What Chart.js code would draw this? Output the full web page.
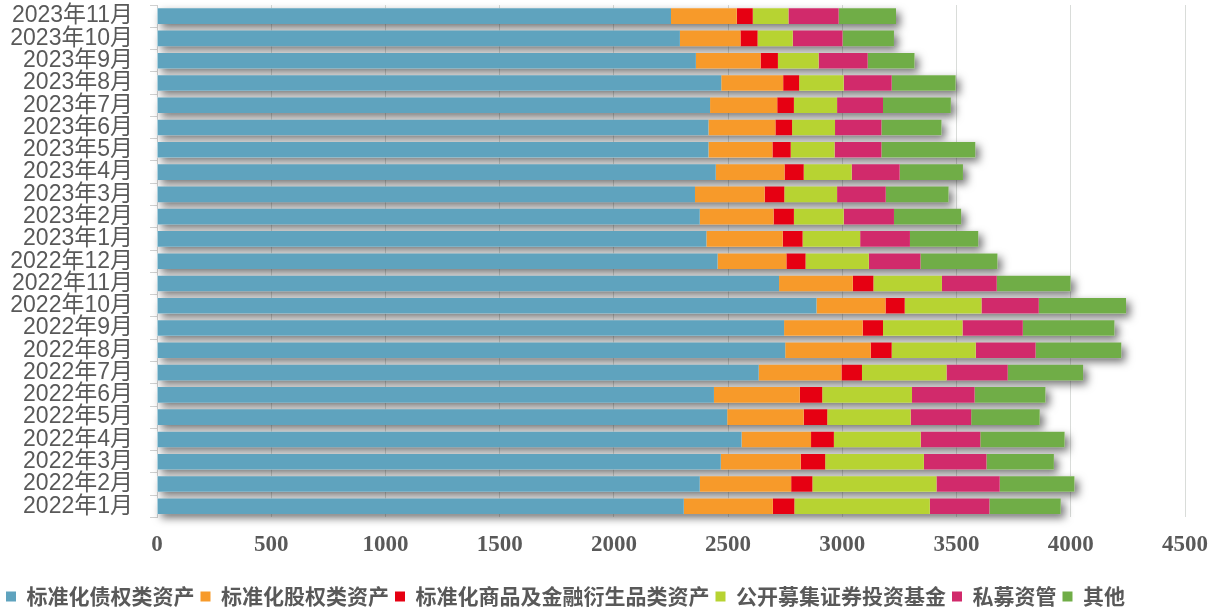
<!DOCTYPE html>
<html>
<head>
<meta charset="utf-8">
<script src="https://cdn.jsdelivr.net/npm/chart.js@4.4.0/dist/chart.umd.min.js"></script>
<style>
  body { margin: 0; background: #fff; }
  #wrap { width: 1222px; height: 610px; }
</style>
</head>
<body>
<div id="wrap"><canvas id="myChart"></canvas></div>
<script>
// months, oldest first (axis is reversed so the latest month sits on top)
var months = ['2022年1月', '2022年2月', '2022年3月', '2022年4月', '2022年5月', '2022年6月',
  '2022年7月', '2022年8月', '2022年9月', '2022年10月', '2022年11月', '2022年12月',
  '2023年1月', '2023年2月', '2023年3月', '2023年4月', '2023年5月', '2023年6月',
  '2023年7月', '2023年8月', '2023年9月', '2023年10月', '2023年11月'];

var bondAssets = [2306, 2376, 2468, 2559, 2496, 2438, 2634, 2750, 2745, 2887, 2723, 2454,
  2405, 2376, 2355, 2446, 2414, 2414, 2421, 2470, 2359, 2289, 2250];
var equityAssets = [390, 400, 350, 304, 335, 376, 362, 374, 344, 302, 323, 301,
  334, 323, 305, 301, 280, 293, 294, 271, 283, 265, 288];
var commodityAssets = [94, 93, 107, 100, 103, 98, 90, 92, 89, 84, 90, 84,
  87, 89, 86, 84, 80, 73, 73, 70, 76, 75, 70];
var publicFunds = [593, 543, 432, 380, 365, 393, 370, 368, 348, 336, 300, 277,
  252, 218, 231, 210, 192, 188, 189, 195, 178, 154, 156];
var privateMgmt = [261, 277, 274, 261, 265, 274, 268, 262, 264, 251, 240, 226,
  218, 220, 213, 210, 205, 203, 201, 210, 215, 218, 220];
var others = [312, 327, 295, 369, 300, 310, 330, 375, 401, 382, 323, 337,
  299, 294, 275, 277, 411, 263, 297, 280, 205, 225, 251];

var xTicks = [0, 500, 1000, 1500, 2000, 2500, 3000, 3500, 4000, 4500];

// soft drop shadow behind each whole stacked bar
var barShadow = {
  id: 'barShadow',
  beforeDatasetsDraw: function(chart) {
    var ctx = chart.ctx;
    var last = chart.getDatasetMeta(chart.data.datasets.length - 1);
    var base = chart.scales.x.getPixelForValue(0);
    ctx.save();
    ctx.shadowColor = 'rgba(0,0,0,0.55)';
    ctx.shadowBlur = 8;
    ctx.shadowOffsetX = 4;
    ctx.shadowOffsetY = 4;
    ctx.fillStyle = '#ffffff';
    last.data.forEach(function(bar) {
      ctx.fillRect(base, bar.y - bar.height / 2, bar.x - base, bar.height);
    });
    ctx.restore();
  }
};

function series(label, data, color) {
  return {
    label: label,
    data: data,
    backgroundColor: color,
    borderWidth: 0,
    categoryPercentage: 0.7,
    barPercentage: 1.0
  };
}

var ctx = document.getElementById('myChart').getContext('2d');
var myChart = new Chart(ctx, {
  type: 'bar',
  data: {
    labels: months,
    datasets: [
      series('标准化债权类资产', bondAssets, '#5fa3be'),
      series('标准化股权类资产', equityAssets, '#f79a2a'),
      series('标准化商品及金融衍生品类资产', commodityAssets, '#e60012'),
      series('公开募集证券投资基金', publicFunds, '#b7d332'),
      series('私募资管', privateMgmt, '#d12a6b'),
      series('其他', others, '#70ad47')
    ]
  },
  plugins: [barShadow],
  options: {
    indexAxis: 'y',
    responsive: true,
    maintainAspectRatio: false,
    animation: false,
    layout: { padding: { top: 5, right: 11, left: 0, bottom: -7 } },
    plugins: {
      tooltip: { enabled: false },
      legend: {
        position: 'bottom',
        align: 'start',
        labels: {
          boxWidth: 10,
          boxHeight: 10,
          padding: 6,
          color: '#595959',
          font: { family: '"Noto Sans CJK SC", sans-serif', size: 21, weight: 'bold' }
        }
      }
    },
    scales: {
      x: {
        stacked: true,
        min: 0,
        max: 4500,
        afterBuildTicks: function(scale) {
          scale.ticks = xTicks.map(function(v) { return { value: v }; });
        },
        afterFit: function(scale) { scale.height += 7; },
        grid: { color: '#d9dcd9', drawTicks: false },
        border: { display: false },
        ticks: {
          padding: 14,
          color: '#595959',
          font: { family: '"Liberation Serif", serif', size: 23, weight: 'bold' },
          callback: function(v) { return String(v); }
        }
      },
      y: {
        stacked: true,
        reverse: true,
        afterFit: function(scale) {
          scale.width = 157;
          scale.paddingTop = 0;
          scale.paddingBottom = 0;
        },
        grid: { drawOnChartArea: false, drawTicks: true, tickLength: 7, color: '#d0d0d0' },
        border: { display: true, color: '#d0d0d0' },
        ticks: {
          autoSkip: false,
          padding: 17,
          color: '#595959',
          font: { family: '"Liberation Sans", "Noto Sans CJK SC", sans-serif', size: 23 }
        }
      }
    }
  }
});
</script>
</body>
</html>
